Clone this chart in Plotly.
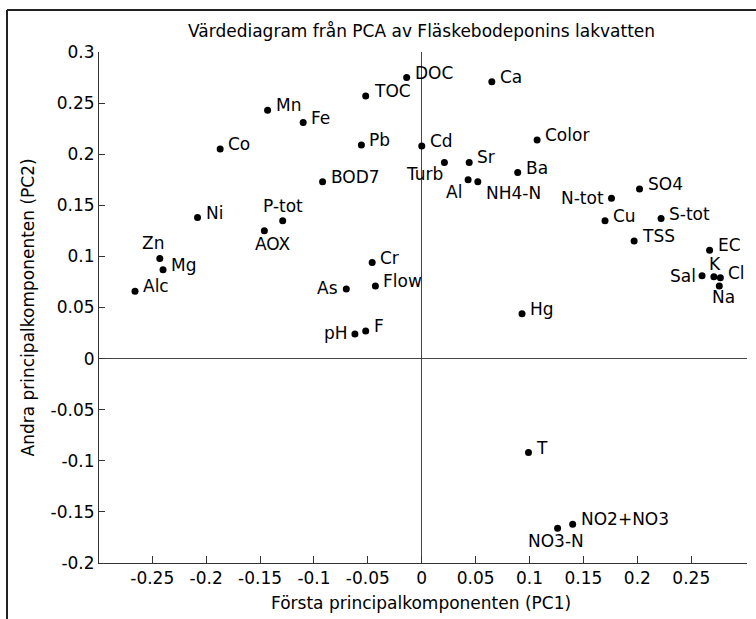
import plotly.graph_objects as go

labels = ["Alc", "Zn", "Mg", "Ni", "Co", "Mn", "Fe", "AOX", "P-tot", "BOD7",
          "TOC", "Pb", "As", "Cr", "Flow", "pH", "F", "DOC", "Cd", "Turb",
          "Sr", "Al", "NH4-N", "Ca", "Ba", "Color", "Hg", "T", "NO3-N", "NO2+NO3",
          "N-tot", "Cu", "SO4", "TSS", "S-tot", "EC", "Sal", "K", "Cl", "Na"]
pc1 = [-0.266, -0.243, -0.240, -0.208, -0.187, -0.143, -0.110, -0.146, -0.129, -0.092,
       -0.052, -0.056, -0.070, -0.046, -0.043, -0.062, -0.052, -0.014, 0.000, 0.021,
       0.044, 0.043, 0.052, 0.065, 0.089, 0.107, 0.093, 0.099, 0.126, 0.140,
       0.176, 0.170, 0.202, 0.197, 0.222, 0.267, 0.260, 0.271, 0.277, 0.276]
pc2 = [0.066, 0.098, 0.087, 0.138, 0.205, 0.243, 0.231, 0.125, 0.135, 0.173,
       0.257, 0.209, 0.068, 0.094, 0.071, 0.024, 0.027, 0.275, 0.208, 0.192,
       0.192, 0.175, 0.173, 0.271, 0.182, 0.214, 0.044, -0.092, -0.166, -0.162,
       0.157, 0.135, 0.166, 0.115, 0.137, 0.106, 0.081, 0.080, 0.079, 0.071]

x_ticks = [-0.25, -0.2, -0.15, -0.1, -0.05, 0, 0.05, 0.1, 0.15, 0.2, 0.25]
x_ticktext = ["-0.25", "-0.2", "-0.15", "-0.1", "-0.05", "0", "0.05", "0.1", "0.15", "0.2", "0.25"]
y_ticks = [-0.2, -0.15, -0.1, -0.05, 0, 0.05, 0.1, 0.15, 0.2, 0.25, 0.3]
y_ticktext = ["-0.2", "-0.15", "-0.1", "-0.05", "0", "0.05", "0.1", "0.15", "0.2", "0.25", "0.3"]

title_text = "Värdediagram från PCA av Fläskebodeponins lakvatten"
x_title = "Första principalkomponenten (PC1)"
y_title = "Andra principalkomponenten (PC2)"

FONT = "DejaVu Sans"
FS = 17

# label placement style: (xanchor, yanchor, xshift, yshift)
default_place = ("left", "middle", 6, 5)
place = {
    "Zn": ("center", "middle", -7, 15),
    "P-tot": ("center", "middle", 0, 15),
    "AOX": ("center", "middle", 9, -13),
    "As": ("right", "middle", -6, 1),
    "pH": ("right", "middle", -5, 1),
    "Turb": ("right", "middle", 1, -12),
    "Al": ("right", "middle", -4, -12),
    "NH4-N": ("left", "middle", 6, -11),
    "N-tot": ("right", "middle", -5, 0),
    "Sal": ("right", "middle", -4, 0),
    "K": ("center", "middle", 1, 13),
    "Cl": ("left", "middle", 6, 5),
    "Na": ("center", "middle", 4, -11),
    "NO3-N": ("center", "middle", -2, -13),
}

fig = go.Figure()
fig.add_trace(go.Scatter(
    x=pc1, y=pc2, mode="markers",
    marker=dict(color="black", size=7),
    hoverinfo="text", text=labels, showlegend=False,
))

annotations = []
for lab, xv, yv in zip(labels, pc1, pc2):
    xa, ya, xs, ys = place.get(lab, default_place)
    annotations.append(dict(
        x=xv, y=yv, xref="x", yref="y", text=lab, showarrow=False,
        xanchor=xa, yanchor=ya, xshift=xs, yshift=ys,
        font=dict(family=FONT, size=FS, color="black"),
    ))

# axis titles
annotations.append(dict(
    x=0.497, y=-(603 - 563) / 511, xref="paper", yref="paper", text=x_title,
    showarrow=False, xanchor="center", yanchor="middle",
    font=dict(family=FONT, size=FS, color="black"),
))
annotations.append(dict(
    x=(27 - 99) / 648, y=0.5, xref="paper", yref="paper", text=y_title,
    showarrow=False, xanchor="center", yanchor="middle", textangle=-90,
    font=dict(family=FONT, size=FS, color="black"),
))
annotations.append(dict(
    x=0.497, y=(563 - 31) / 511, xref="paper", yref="paper", text=title_text,
    showarrow=False, xanchor="center", yanchor="middle",
    font=dict(family=FONT, size=FS, color="black"),
))

shapes = [
    dict(type="line", xref="paper", yref="paper",
         x0=(7 - 99) / 648, x1=(756 - 99) / 648, y0=(563 - 10) / 511, y1=(563 - 10) / 511,
         line=dict(color="#222", width=2)),
    dict(type="line", xref="paper", yref="paper",
         x0=(7 - 99) / 648, x1=(7 - 99) / 648, y0=(563 - 10) / 511, y1=(563 - 619) / 511,
         line=dict(color="#222", width=2)),
]

fig.update_layout(
    width=756, height=619,
    margin=dict(l=99, r=9, t=52, b=56),
    paper_bgcolor="white", plot_bgcolor="white",
    font=dict(family=FONT, size=FS, color="black"),
    annotations=annotations, shapes=shapes,
    xaxis=dict(
        range=[-0.2994, 0.3017], tickvals=x_ticks, ticktext=x_ticktext,
        showgrid=False, zeroline=True, zerolinecolor="#444", zerolinewidth=1,
        showline=True, linecolor="#333", linewidth=1, mirror=False,
        ticks="inside", ticklen=7, tickcolor="#333",
        tickfont=dict(family=FONT, size=FS, color="black"),
    ),
    yaxis=dict(
        range=[-0.2, 0.3], tickvals=y_ticks, ticktext=y_ticktext,
        showgrid=False, zeroline=True, zerolinecolor="#444", zerolinewidth=1,
        showline=True, linecolor="#333", linewidth=1, mirror=False,
        ticks="inside", ticklen=6, tickcolor="#333",
        tickfont=dict(family=FONT, size=FS, color="black"),
    ),
)

fig.write_html(
    "out.html",
    config={"displayModeBar": False},
    post_script="document.body.style.margin='0';document.body.style.overflow='hidden';",
)
